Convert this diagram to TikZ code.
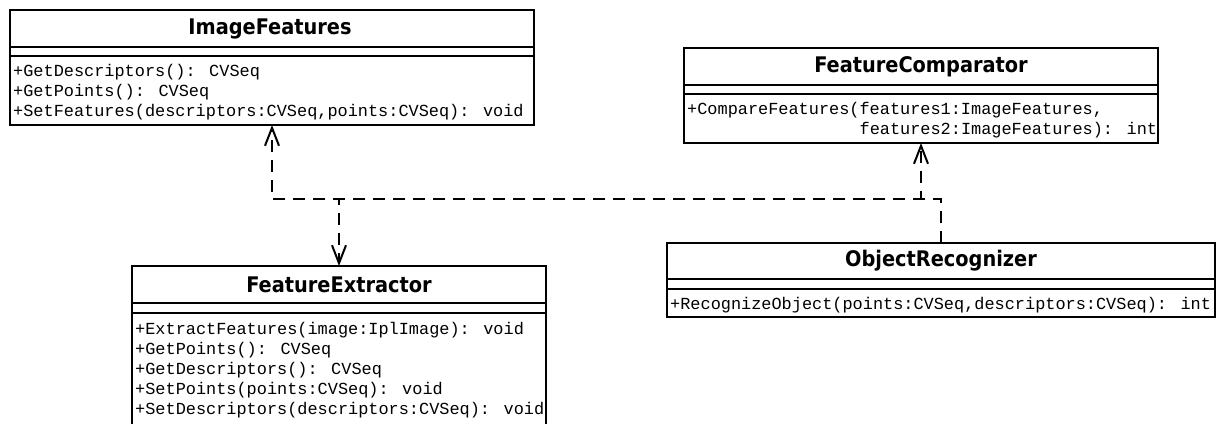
\documentclass[tikz,border=0pt]{standalone}
\usepackage{fontspec}
\newfontfamily\classfont{DejaVu Sans Condensed}
\newfontfamily\opfont{Liberation Mono}
\usetikzlibrary{arrows.meta}
\begin{document}
\begin{tikzpicture}[x=1pt,y=-1pt,
  classbox/.style={draw, line width=2pt, rectangle, inner sep=0pt, outer sep=0pt, anchor=north west},
  classname/.style={font=\classfont\bfseries\fontsize{21.5}{26}\selectfont, inner sep=0pt},
  op/.style={font=\opfont\fontsize{16.9}{20}\selectfont, anchor=west, inner sep=0pt, text=black},
  rule/.style={line width=2pt},
  dep/.style={line width=2.6pt, dash pattern=on 12pt off 8pt,
    -{Straight Barb[length=18pt,width=14pt,line width=2pt]}}
]
\fill[white] (0,0) rectangle (1223,423);
\useasboundingbox (0,0) rectangle (1223,423);

% ImageFeatures
\node[classbox, minimum width=524pt, minimum height=115pt] (IF) at (10,10) {};
\draw[rule] ([yshift=-37pt]IF.north west) -- ([yshift=-37pt]IF.north east);
\draw[rule] ([yshift=-46pt]IF.north west) -- ([yshift=-46pt]IF.north east);
\node[classname] (IFn) at (270,28.5) {ImageFeatures};
\node[op] (IF1) at (13,72) {+GetDescriptors(): CVSeq};
\node[op] (IF2) at (13,92) {+GetPoints(): CVSeq};
\node[op] (IF3) at (13,112) {+SetFeatures(descriptors:CVSeq,points:CVSeq): void};

% FeatureComparator
\node[classbox, minimum width=474pt, minimum height=95pt] (FC) at (684,48) {};
\draw[rule] ([yshift=-37pt]FC.north west) -- ([yshift=-37pt]FC.north east);
\draw[rule] ([yshift=-46pt]FC.north west) -- ([yshift=-46pt]FC.north east);
\node[classname] (FCn) at (921,66.5) {FeatureComparator};
\node[op] (FC1) at (687,110) {+CompareFeatures(features1:ImageFeatures,};
\node[op] (FC2) at (687,130) {\hphantom{+CompareFeatures(}features2:ImageFeatures): int};

% FeatureExtractor
\node[classbox, minimum width=414pt, minimum height=170pt] (FE) at (132,266) {};
\draw[rule] ([yshift=-37pt]FE.north west) -- ([yshift=-37pt]FE.north east);
\draw[rule] ([yshift=-47pt]FE.north west) -- ([yshift=-47pt]FE.north east);
\node[classname] (FEn) at (339,284.5) {FeatureExtractor};
\node[op] (FE1) at (135,330) {+ExtractFeatures(image:IplImage): void};
\node[op] (FE2) at (135,350) {+GetPoints(): CVSeq};
\node[op] (FE3) at (135,370) {+GetDescriptors(): CVSeq};
\node[op] (FE4) at (135,390) {+SetPoints(points:CVSeq): void};
\node[op] (FE5) at (135,410) {+SetDescriptors(descriptors:CVSeq): void};

% ObjectRecognizer
\node[classbox, minimum width=548pt, minimum height=74pt] (OR) at (667,243) {};
\draw[rule] ([yshift=-36pt]OR.north west) -- ([yshift=-36pt]OR.north east);
\draw[rule] ([yshift=-46pt]OR.north west) -- ([yshift=-46pt]OR.north east);
\node[classname] (ORn) at (941,261) {ObjectRecognizer};
\node[op] (OR1) at (670,305) {+RecognizeObject(points:CVSeq,descriptors:CVSeq): int};

% dependencies of ObjectRecognizer, sharing one horizontal bus
\coordinate (bus) at (0,199);
\draw[dep] (OR.north) |- (IF.south |- bus) -- (IF.south);
\draw[dep] (OR.north) |- (FE.north |- bus) -- (FE.north);
\draw[dep] (OR.north) |- (FC.south |- bus) -- (FC.south);
\end{tikzpicture}
\end{document}
